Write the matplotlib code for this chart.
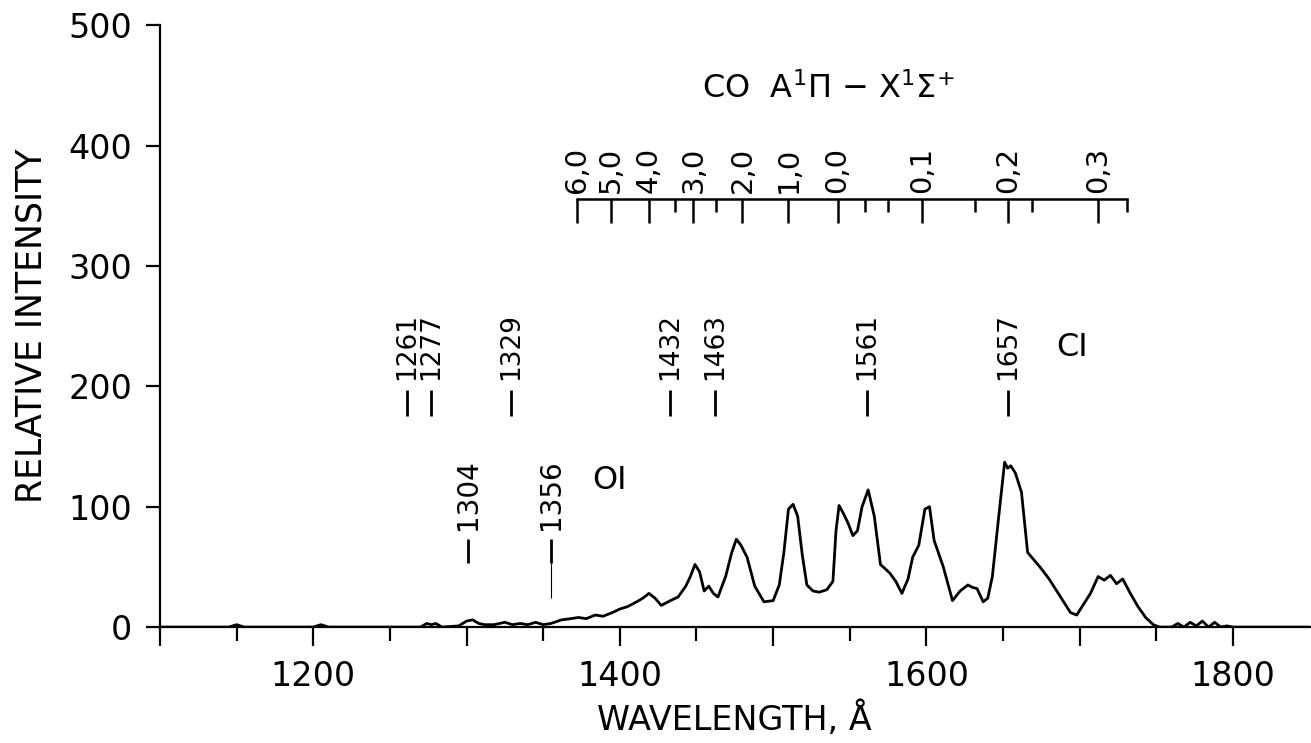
import numpy as np
import matplotlib
matplotlib.use("Agg")
from matplotlib import pyplot as plt
from matplotlib.ticker import FixedLocator, FuncFormatter

plt.rcParams["font.family"] = "DejaVu Sans"

# spectrum (wavelength in A, relative intensity)
wavelength = [1100, 1145, 1150, 1155, 1200, 1205, 1210, 1270, 1274, 1277, 1280, 1284,
              1295, 1300, 1304, 1308, 1312, 1318, 1325, 1330, 1335, 1340, 1345, 1350,
              1355, 1362, 1368, 1373, 1378, 1384, 1389, 1395, 1400, 1405, 1411, 1415,
              1419, 1423, 1427, 1433, 1438, 1443, 1446, 1449, 1452, 1455, 1458, 1461,
              1464, 1469, 1473, 1476, 1479, 1483, 1488, 1494, 1500, 1504, 1507, 1510,
              1513, 1516, 1519, 1522, 1526, 1530, 1535, 1539, 1541, 1543, 1546, 1549,
              1552, 1555, 1558, 1562, 1566, 1570, 1576, 1580, 1584, 1588, 1591, 1595,
              1599, 1602, 1605, 1611, 1617, 1622, 1627, 1630, 1633, 1637, 1640, 1643,
              1647, 1651, 1653, 1655, 1658, 1662, 1666, 1670, 1674, 1680, 1685, 1690,
              1694, 1698, 1702, 1707, 1712, 1716, 1720, 1724, 1728, 1733, 1738, 1743,
              1748, 1752, 1760, 1764, 1768, 1772, 1776, 1780, 1784, 1788, 1792, 1796,
              1800, 1850]
intensity = [0, 0, 2, 0, 0, 2, 0, 0, 3, 2, 3, 0,
             1, 5, 6, 3, 2, 2, 4, 2, 3, 2, 4, 2,
             3, 6, 7, 8, 7, 10, 9, 12, 15, 17, 21, 24,
             28, 24, 18, 22, 25, 34, 42, 52, 46, 30, 34, 28,
             25, 42, 62, 73, 68, 58, 34, 21, 22, 35, 62, 98,
             102, 92, 60, 35, 30, 29, 31, 38, 80, 101, 94, 86,
             76, 80, 100, 114, 92, 52, 45, 38, 28, 40, 58, 68,
             98, 100, 72, 50, 22, 30, 35, 33, 32, 21, 24, 42,
             90, 137, 132, 134, 128, 112, 62, 56, 50, 40, 30, 20,
             12, 10, 18, 28, 42, 39, 43, 36, 40, 28, 17, 8,
             2, 0, 0, 3, 0, 4, 1, 5, 0, 4, 0, 1,
             0, 0]

# CO A-X band heads on the upper scale
band_labels = ["6,0", "5,0", "4,0", "3,0", "2,0", "1,0", "0,0", "0,1", "0,2", "0,3"]
band_pos = [1372, 1394, 1419, 1448, 1480, 1510, 1542, 1597, 1653, 1712]
band_minor = [1436, 1463, 1560, 1575, 1632, 1669, 1731]

# atomic lines
ci_labels = ["1261", "1277", "1329", "1432", "1463", "1561", "1657"]
ci_pos = [1261, 1277, 1329, 1433, 1462, 1561, 1653]
oi_labels = ["1304", "1356"]
oi_pos = [1301, 1355]

fig = plt.figure(figsize=(13.11, 7.43), dpi=100)
ax = fig.add_axes([0.122, 0.156, 0.877, 0.81])

ax.plot(wavelength, intensity, color="black", linewidth=2.0)

ax.set_xlim(1100, 1850)
ax.set_ylim(0, 500)
for side in ["top", "right"]:
    ax.spines[side].set_visible(False)
for side in ["left", "bottom"]:
    ax.spines[side].set_linewidth(1.6)

ax.xaxis.set_major_locator(FixedLocator(range(1100, 1900, 100)))
ax.xaxis.set_minor_locator(FixedLocator(range(1150, 1850, 100)))
ax.xaxis.set_major_formatter(FuncFormatter(lambda v, p: "" if int(v) % 200 else f"{int(v)}"))
ax.set_yticks(range(0, 501, 100))
ax.tick_params(axis="x", which="major", direction="out", length=14, width=1.6, pad=10,
               labelsize=24)
ax.tick_params(axis="x", which="minor", direction="out", length=10, width=1.6)
ax.tick_params(axis="y", direction="out", length=10, width=1.6, pad=10, labelsize=24)

ax.set_xlabel("WAVELENGTH, Å", fontsize=24, labelpad=6)
ax.set_ylabel("RELATIVE INTENSITY", fontsize=25, labelpad=14)

# upper CO scale
scale_y = 356
ax.plot([band_pos[0], band_minor[-1]], [scale_y, scale_y], color="black", linewidth=1.8)
ax.vlines(band_pos, scale_y - 20, scale_y, color="black", linewidth=1.8)
ax.vlines(band_minor, scale_y - 11, scale_y, color="black", linewidth=1.8)
for lab, pos in zip(band_labels, band_pos):
    ax.text(pos, scale_y + 5, lab, rotation=90, ha="center", va="bottom", fontsize=21)
ax.text(1536, 447, r"CO  A$^{1}\Pi$ $-$ X$^{1}\Sigma^{+}$", ha="center", va="center",
        fontsize=23)

# CI lines
ax.vlines(ci_pos, 175, 197, color="black", linewidth=2.0)
for lab, pos in zip(ci_labels, ci_pos):
    ax.text(pos, 205, lab, rotation=90, ha="center", va="bottom", fontsize=19)
ax.text(1695, 232, "CI", ha="center", va="center", fontsize=23)

# OI lines
ax.vlines(oi_pos, 53, 73, color="black", linewidth=2.0)
ax.vlines(oi_pos[1], 24, 53, color="black", linewidth=0.8)
for lab, pos in zip(oi_labels, oi_pos):
    ax.text(pos, 81, lab, rotation=90, ha="center", va="bottom", fontsize=20)
ax.text(1393, 122, "OI", ha="center", va="center", fontsize=23)

fig.savefig("out.png", dpi=100)
